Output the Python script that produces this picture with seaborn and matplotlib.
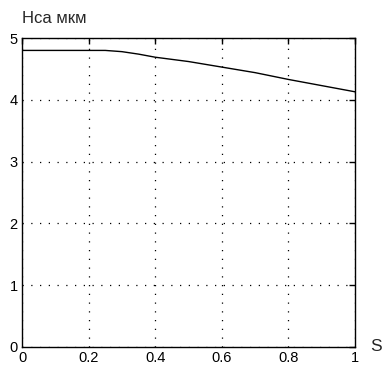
import numpy as np
import matplotlib
matplotlib.use("Agg")
import matplotlib.pyplot as plt
import seaborn as sns

# curve values
s_vals = [0.0, 0.1, 0.2, 0.25, 0.3, 0.35, 0.4, 0.5, 0.6, 0.7, 0.8, 0.9, 1.0]
hca_vals = [4.8, 4.8, 4.8, 4.8, 4.78, 4.74, 4.69, 4.62, 4.53, 4.44, 4.33, 4.23, 4.13]
x_ticks = [0, 0.2, 0.4, 0.6, 0.8, 1]
x_labels = ["0", "0.2", "0.4", "0.6", "0.8", "1"]
y_ticks = [0, 1, 2, 3, 4, 5]

sns.set_style("white")
plt.rcParams["font.family"] = ["Liberation Sans", "DejaVu Sans"]

fig = plt.figure(figsize=(3.86, 3.66), dpi=100)
ax = fig.add_axes([0.057, 0.052, 0.863, 0.844])

sns.lineplot(x=s_vals, y=hca_vals, ax=ax, color="black", linewidth=1.0)

ax.set_xlim(0, 1)
ax.set_ylim(0, 5)
ax.set_xticks(x_ticks)
ax.set_xticklabels(x_labels)
ax.set_yticks(y_ticks)

ax.grid(True, color="black", linestyle=(0, (1, 6)), linewidth=0.9)
for sp in ax.spines.values():
    sp.set_color("black")
    sp.set_linewidth(1.0)
ax.tick_params(direction="in", length=4, width=1, top=True, right=True,
               labelsize=10.5, colors="black", pad=3)

ax.text(0.0, 1.04, "Нса мкм", transform=ax.transAxes, fontsize=12,
        ha="left", va="bottom")
ax.text(1.045, 0.0, "S", transform=ax.transAxes, fontsize=12.5,
        ha="left", va="center")

fig.savefig("out.png", dpi=100)
